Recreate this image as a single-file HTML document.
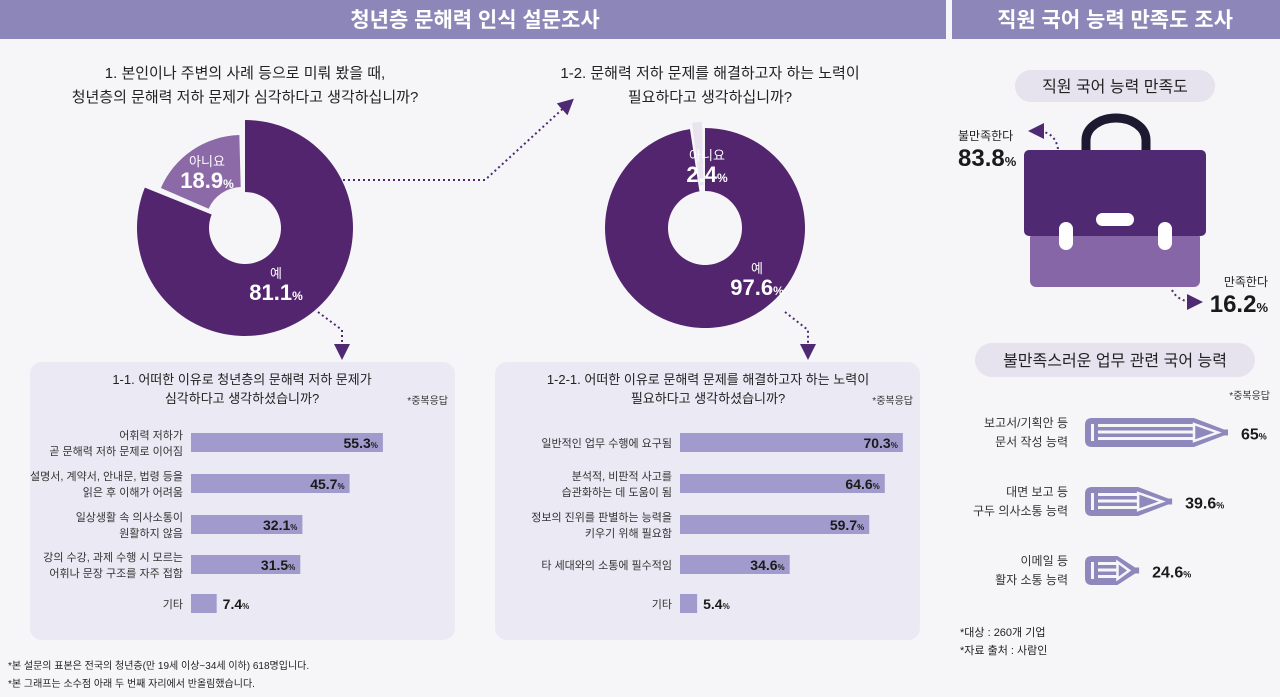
<!DOCTYPE html>
<html><head><meta charset="utf-8">
<style>
html,body{margin:0;padding:0;background:#f6f6f8;}
svg{display:block;font-family:"Liberation Sans","Noto Sans CJK KR",sans-serif;}
</style></head>
<body>
<svg id="s" width="1280" height="697" viewBox="0 0 1280 697" xmlns="http://www.w3.org/2000/svg">
<defs>
<marker id="ah" markerWidth="8" markerHeight="8" refX="4" refY="4" orient="auto"><path d="M0,0 L8,4 L0,8 Z" fill="#4f2a72"/></marker>
</defs>
<rect x="0" y="0" width="1280" height="697" fill="#f6f6f8"/>
<rect x="0" y="0" width="946" height="39" fill="#8c86b9"/>
<rect x="952" y="0" width="328" height="39" fill="#8c86b9"/>
<text x="475" y="27" text-anchor="middle" fill="#fff" font-size="21" font-weight="bold">청년층 문해력 인식 설문조사</text>
<text x="1115" y="27" text-anchor="middle" fill="#fff" font-size="21" font-weight="bold">직원 국어 능력 만족도 조사</text>

<g font-size="15" fill="#222" text-anchor="middle">
<text x="245" y="78">1. 본인이나 주변의 사례 등으로 미뤄 봤을 때,</text>
<text x="245" y="102">청년층의 문해력 저하 문제가 심각하다고 생각하십니까?</text>
</g>
<g font-size="15" fill="#222" text-anchor="middle">
<text x="710" y="78">1-2. 문해력 저하 문제를 해결하고자 하는 노력이</text>
<text x="710" y="102">필요하다고 생각하십니까?</text>
</g>

<g id="donuts"></g>

<g fill="none" stroke="#4f2a72" stroke-width="2" stroke-dasharray="2,3">
<path d="M338,180 L485,180 L568,104" marker-end="url(#ah)"/>
<path d="M318,312 L342,330 L342,352" marker-end="url(#ah)"/>
<path d="M785,312 L808,330 L808,352" marker-end="url(#ah)"/>
</g>

<rect x="30" y="362" width="425" height="278" rx="12" fill="#ebe9f3"/>
<rect x="495" y="362" width="425" height="278" rx="12" fill="#ebe9f3"/>
<g font-size="13" fill="#222" text-anchor="middle">
<text x="242" y="384">1-1. 어떠한 이유로 청년층의 문해력 저하 문제가</text>
<text x="242" y="403">심각하다고 생각하셨습니까?</text>
<text x="708" y="384">1-2-1. 어떠한 이유로 문해력 문제를 해결하고자 하는 노력이</text>
<text x="708" y="403">필요하다고 생각하셨습니까?</text>
</g>
<text x="448" y="404" font-size="10" fill="#333" text-anchor="end">*중복응답</text>
<text x="913" y="404" font-size="10" fill="#333" text-anchor="end">*중복응답</text>
<g id="bars"></g>

<rect x="1015" y="70" width="200" height="32" rx="16" fill="#e6e2ee"/>
<text x="1115" y="92" text-anchor="middle" font-size="16" fill="#222">직원 국어 능력 만족도</text>
<g>
<path d="M1086,152 L1086,140 A30,22 0 0 1 1146,140 L1146,152" fill="none" stroke="#1c1930" stroke-width="9"/>
<rect x="1030" y="232" width="170" height="55" rx="6" fill="#8666a6"/>
<rect x="1024" y="150" width="182" height="86" rx="5" fill="#4f2a72"/>
<rect x="1096" y="213" width="38" height="13" rx="6.5" fill="#fff"/>
<rect x="1059" y="222" width="14" height="28" rx="7" fill="#fff"/>
<rect x="1158" y="222" width="14" height="28" rx="7" fill="#fff"/>
</g>
<g id="brief-labels"></g>
<path d="M1058,149 Q1055,131 1036,131" fill="none" stroke="#4f2a72" stroke-width="2" stroke-dasharray="2,3" marker-end="url(#ah)"/>
<path d="M1172,290 Q1178,302 1195,302" fill="none" stroke="#4f2a72" stroke-width="2" stroke-dasharray="2,3" marker-end="url(#ah)"/>

<rect x="975" y="343" width="280" height="34" rx="17" fill="#e6e2ee"/>
<text x="1115" y="366" text-anchor="middle" font-size="16" fill="#222">불만족스러운 업무 관련 국어 능력</text>
<text x="1270" y="399" text-anchor="end" font-size="10" fill="#333">*중복응답</text>
<g id="pencils"></g>
<g font-size="11" fill="#222">
<text x="960" y="636">*대상 : 260개 기업</text>
<text x="960" y="654">*자료 출처 : 사람인</text>
</g>
<g font-size="10" fill="#222">
<text x="8" y="669">*본 설문의 표본은 전국의 청년층(만 19세 이상~34세 이하) 618명입니다.</text>
<text x="8" y="687">*본 그래프는 소수점 아래 두 번째 자리에서 반올림했습니다.</text>
</g>
</svg>
<script>
const donut1Labels = ["예", "아니요"];
const donut1Values = [81.1, 18.9];
const donut2Labels = ["예", "아니요"];
const donut2Values = [97.6, 2.4];
const bars1Labels = [["어휘력 저하가","곧 문해력 저하 문제로 이어짐"],["설명서, 계약서, 안내문, 법령 등을","읽은 후 이해가 어려움"],["일상생활 속 의사소통이","원활하지 않음"],["강의 수강, 과제 수행 시 모르는","어휘나 문장 구조를 자주 접함"],["기타"]];
const bars1Values = [55.3, 45.7, 32.1, 31.5, 7.4];
const bars2Labels = [["일반적인 업무 수행에 요구됨"],["분석적, 비판적 사고를","습관화하는 데 도움이 됨"],["정보의 진위를 판별하는 능력을","키우기 위해 필요함"],["타 세대와의 소통에 필수적임"],["기타"]];
const bars2Values = [70.3, 64.6, 59.7, 34.6, 5.4];
const briefLabels = ["불만족한다", "만족한다"];
const briefValues = [83.8, 16.2];
const pencilLabels = [["보고서/기획안 등","문서 작성 능력"],["대면 보고 등","구두 의사소통 능력"],["이메일 등","활자 소통 능력"]];
const pencilValues = [65, 39.6, 24.6];
const pencilValueText = ["65", "39.6", "24.6"];

const NS="http://www.w3.org/2000/svg";
function mk(tag, attrs, parent){const e=document.createElementNS(NS,tag);for(const k in attrs)e.setAttribute(k,attrs[k]);parent.appendChild(e);return e;}
function pt(cx,cy,r,deg){const a=(deg-90)*Math.PI/180;return [cx+r*Math.cos(a),cy+r*Math.sin(a)];}
function arc(cx,cy,ro,ri,a0,a1){const L=(a1-a0)>180?1:0;const p1=pt(cx,cy,ro,a0),p2=pt(cx,cy,ro,a1),p3=pt(cx,cy,ri,a1),p4=pt(cx,cy,ri,a0);
return `M${p1} A${ro},${ro} 0 ${L} 1 ${p2} L${p3} A${ri},${ri} 0 ${L} 0 ${p4} Z`;}

function pctText(parent,x,y,num,size,fill,anchor){
  const t=mk('text',{x:x,y:y,'font-size':size,'font-weight':'bold',fill:fill,'text-anchor':anchor||'middle','font-family':'"Liberation Sans Narrow","Liberation Sans",sans-serif'},parent);
  t.textContent=num;
  const s=mk('tspan',{'font-size':Math.round(size*0.55)},t);s.textContent='%';
  return t;
}

const dg=document.getElementById('donuts');
function drawDonut(cx,cy,ro,ri,labels,values,name,colors,minorR,labelPos){
  const g=mk('g',{},dg);
  
  
  const total=values.reduce((a,b)=>a+b,0);let a=0;
  values.forEach((v,i)=>{
    const a0=a,a1=a+v/total*360;a=a1;
    const mid=(a0+a1)/2;let ox=0,oy=0,r=ro;
    if(i===1){const o=pt(0,0,6,mid);ox=o[0];oy=o[1];r=minorR;}
    const p=mk('path',{d:arc(cx+ox,cy+oy,r,ri,a0+(i===1?1.5:0),a1-(i===1?1.5:0)),fill:colors[i]},g);
    
    
  });
  values.forEach((v,i)=>{
    const lx=labelPos[i][0],ly=labelPos[i][1];
    const tl=mk('text',{x:lx,y:ly-22,'font-size':13,fill:'#fff','text-anchor':'middle'},g);
    tl.textContent=labels[i];
    
    
    const tv=pctText(g,lx,ly,v.toFixed(1),22,'#fff');
    
    
  });
}
drawDonut(245,228,108,36,donut1Labels,donut1Values,'donut-q1',['#52256e','#8c6aa8'],88,[[276,300],[207,188]]);
drawDonut(705,228,100,37,donut2Labels,donut2Values,'donut-q1-2',['#52256e','#e8e3ef'],100,[[757,295],[707,182]]);

const bg=document.getElementById('bars');
function drawBars(x0,scale,labels,values,name){
  const g=mk('g',{},bg);
  
  
  const ys=[433,474,515,555,594];
  values.forEach((v,i)=>{
    const y=ys[i];const w=v*scale;
    const r=mk('rect',{x:x0,y:y,width:w,height:19,fill:'#a09bcc'},g);
    
    
    const inside=w>50;
    const tv=pctText(g,inside?x0+w-5:x0+w+6,y+15,v.toFixed(1),14,'#1a1a1a',inside?'end':'start');
    
    
    const L=labels[i];
    L.forEach((s,j)=>{
      const t=mk('text',{x:x0-8,y:y+14+(j-(L.length-1)/2)*16,'font-size':11,fill:'#333','text-anchor':'end'},g);
      t.textContent=s;
      
      
    });
  });
}
drawBars(191,3.47,bars1Labels,bars1Values,'bars-1-1');
drawBars(680,3.17,bars2Labels,bars2Values,'bars-1-2-1');

const bl=document.getElementById('brief-labels');
[[958,140,'start'],[1268,286,'end']].forEach((p,i)=>{
  const t=mk('text',{x:p[0],y:p[1],'font-size':12,fill:'#222','text-anchor':p[2]},bl);
  t.textContent=briefLabels[i];
  
  
  const v=pctText(bl,p[0],p[1]+26,briefValues[i].toFixed(1),24,'#1a1a1a',p[2]);
  
  
});

const pg=document.getElementById('pencils');
const pys=[418,487,556];
pencilValues.forEach((v,i)=>{
  const g=mk('g',{},pg);
  
  
  const x0=1085,len=v*2.2,y=pys[i],h=29,tip=Math.min(34,len*0.4);
  const bx=x0+len-tip;
  mk('path',{d:`M${x0+7},${y} L${bx},${y} L${x0+len-4},${y+h/2-3} L${x0+len},${y+h/2-3} L${x0+len},${y+h/2+3} L${x0+len-4},${y+h/2+3} L${bx},${y+h} L${x0+7},${y+h} Q${x0},${y+h} ${x0},${y+h-7} L${x0},${y+7} Q${x0},${y} ${x0+7},${y} Z`,fill:'#8f88bd'},g);
  mk('rect',{x:x0+6,y:y+6,width:3,height:h-12,fill:'#f6f6f8'},g);
  [0,1,2].forEach(k=>{mk('rect',{x:x0+13,y:y+6+k*6.5,width:bx-x0-13,height:3,fill:'#f6f6f8'},g);});
  mk('path',{d:`M${bx},${y+6} L${x0+len-10},${y+h/2} L${bx},${y+h-6} Z`,fill:'none',stroke:'#f6f6f8','stroke-width':2.5},g);
  const tv=pctText(g,x0+len+13,y+h/2+7,pencilValueText[i],16,'#1a1a1a','start');
  
  
  pencilLabels[i].forEach((s,j)=>{
    const t=mk('text',{x:1068,y:y+9+j*19,'font-size':12,fill:'#333','text-anchor':'end'},g);
    t.textContent=s;
    
    
  });
});
</script>
</body></html>
